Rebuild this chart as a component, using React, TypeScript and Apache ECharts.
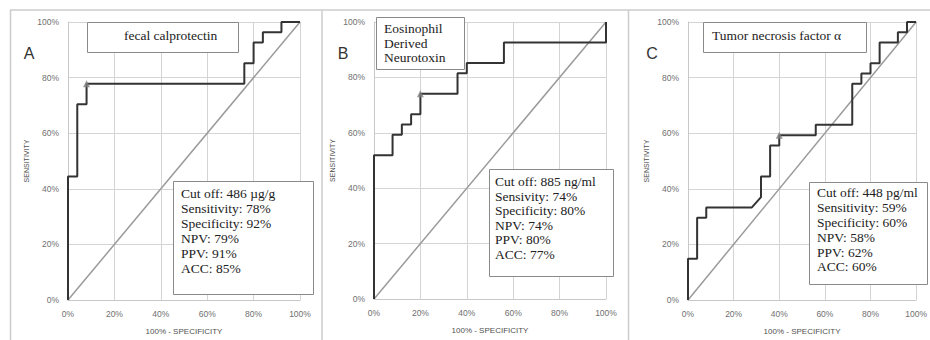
import React, { useEffect, useRef } from "react";
import * as echarts from "echarts";

// Panel A: fecal calprotectin ROC (x = 100% - specificity, y = sensitivity)
const rocAX = [0, 0, 4, 4, 8, 8, 76, 76, 80, 80, 84, 84, 92, 92, 100];
const rocAY = [0, 44.4, 44.4, 70.4, 70.4, 77.8, 77.8, 85.2, 85.2, 92.6, 92.6, 96.3, 96.3, 100, 100];
const cutA = [8, 77.8];

// Panel B: Eosinophil Derived Neurotoxin
const rocBX = [0, 0, 8, 8, 12, 12, 16, 16, 20, 20, 36, 36, 40, 40, 56, 56, 100, 100];
const rocBY = [0, 51.9, 51.9, 59.3, 59.3, 63, 63, 66.7, 66.7, 74.1, 74.1, 81.5, 81.5, 85.2, 85.2, 92.6, 92.6, 100];
const cutB = [20, 74.1];

// Panel C: Tumor necrosis factor alpha
const rocCX = [0, 0, 4, 4, 8, 8, 28, 32, 32, 36, 36, 40, 40, 56, 56, 72, 72, 76, 76, 80, 80, 84, 84, 92, 92, 96, 96, 100];
const rocCY = [0, 14.8, 14.8, 29.6, 29.6, 33.3, 33.3, 37, 44.4, 44.4, 55.6, 55.6, 59.3, 59.3, 63, 63, 77.8, 77.8, 81.5, 81.5, 85.2, 85.2, 92.6, 92.6, 96.3, 96.3, 100, 100];
const cutC = [40, 59.3];

const reference = [0, 100];

const panelLetters = ["A", "B", "C"];
const titleA = ["fecal calprotectin"];
const titleB = ["Eosinophil", "Derived", "Neurotoxin"];
const titleC = ["Tumor necrosis factor α"];
const statsA = ["Cut off: 486 µg/g", "Sensitivity: 78%", "Specificity: 92%", "NPV: 79%", "PPV: 91%", "ACC: 85%"];
const statsB = ["Cut off: 885 ng/ml", "Sensivity: 74%", "Specificity: 80%", "NPV: 74%", "PPV: 80%", "ACC: 77%"];
const statsC = ["Cut off: 448 pg/ml", "Sensitivity: 59%", "Specificity: 60%", "NPV: 58%", "PPV: 62%", "ACC: 60%"];
const xName = "100% - SPECIFICITY";
const yName = "SENSITIVITY";

const zip = (xs: number[], ys: number[]) => xs.map((x, i) => [x, ys[i]]);

const SERIF = "'Liberation Serif', 'Times New Roman', serif";
const SANS = "'Liberation Sans', Arial, sans-serif";

export default function App() {
  const ref = useRef<HTMLDivElement>(null);
  useEffect(() => {
    if (!ref.current) return;
    const chart = echarts.init(ref.current, null, { renderer: "svg" });
    const grids = [
      { left: 68, top: 22, width: 232, height: 278 },
      { left: 374, top: 22, width: 232, height: 277 },
      { left: 688, top: 22, width: 231, height: 278 },
    ];
    const axisCommon = {
      type: "value" as const,
      min: 0,
      max: 100,
      interval: 20,
      axisLine: { show: true, lineStyle: { color: "#c8c8c8", width: 1 } },
      axisTick: { show: false },
      splitLine: { show: true, lineStyle: { color: "#d4d4d4", width: 1 } },
      axisLabel: {
        formatter: "{value}%",
        color: "#707070",
        fontSize: 8.5,
        fontFamily: SANS,
        margin: 9,
      },
    };
    const xAxes = grids.map((_, i) => ({
      ...axisCommon,
      gridIndex: i,
      name: xName,
      nameLocation: "middle" as const,
      nameGap: 27,
      nameTextStyle: { color: "#505050", fontSize: 8, fontFamily: SANS },
    }));
    const yAxes = grids.map((_, i) => ({
      ...axisCommon,
      gridIndex: i,
      name: yName,
      nameLocation: "middle" as const,
      nameGap: 38,
      nameRotate: 90,
      nameTextStyle: { color: "#505050", fontSize: 7, fontFamily: SANS },
    }));
    const rocs = [zip(rocAX, rocAY), zip(rocBX, rocBY), zip(rocCX, rocCY)];
    const cuts = [cutA, cutB, cutC];
    const series: any[] = [];
    grids.forEach((_, i) => {
      series.push({
        type: "line",
        xAxisIndex: i,
        yAxisIndex: i,
        data: zip(reference, reference),
        showSymbol: false,
        lineStyle: { color: "#9a9a9a", width: 1.5 },
        z: 2,
      });
      series.push({
        type: "line",
        xAxisIndex: i,
        yAxisIndex: i,
        data: rocs[i],
        showSymbol: false,
        lineStyle: { color: "#333333", width: 2 },
        z: 3,
      });
      series.push({
        type: "scatter",
        xAxisIndex: i,
        yAxisIndex: i,
        data: [cuts[i]],
        symbol: "triangle",
        symbolSize: 7,
        itemStyle: { color: "#808080" },
        z: 4,
      });
    });

    const box = (x: number, y: number, w: number, h: number) => ({
      type: "rect",
      shape: { x, y, width: w, height: h },
      style: { fill: "#ffffff", stroke: "#8a8a8a", lineWidth: 1 },
      z: 100,
    });
    const txt = (x: number, y: number, lines: string[], lh: number) => ({
      type: "text",
      x,
      y,
      style: {
        text: lines.join("\n"),
        font: `13.5px ${SERIF}`,
        fill: "#222222",
        lineHeight: lh,
        verticalAlign: "top",
      },
      z: 101,
    });
    const frameLine = (x1: number, y1: number, x2: number, y2: number) => ({
      type: "line",
      shape: { x1, y1, x2, y2 },
      style: { stroke: "#cccccc", lineWidth: 1.5 },
      z: 1,
    });
    const letter = (x: number, s: string) => ({
      type: "text",
      x,
      y: 53,
      style: { text: s, font: `16px ${SANS}`, fill: "#333", align: "center", verticalAlign: "middle" },
      z: 101,
    });

    const graphic: any[] = [
      frameLine(10, 10, 930, 10),
      frameLine(10.5, 10, 10.5, 340),
      frameLine(322, 10, 322, 340),
      frameLine(628.5, 10, 628.5, 340),
      letter(29, panelLetters[0]),
      letter(343, panelLetters[1]),
      letter(652, panelLetters[2]),
      // titles
      box(87.5, 22.5, 151, 30),
      txt(124, 28, titleA, 15),
      box(376.5, 17.5, 88, 52),
      txt(384, 21.5, titleB, 14.5),
      box(703.5, 22.5, 163, 30),
      txt(712, 28, titleC, 15),
      // stats
      box(173.5, 181.5, 140, 113),
      txt(181, 185.5, statsA, 15),
      box(489.5, 169.5, 124, 107),
      txt(495, 174.5, statsB, 14.5),
      box(809.5, 182.5, 118, 102),
      txt(817, 185.5, statsC, 14.8),
    ];

    chart.setOption({
      animation: false,
      backgroundColor: "#ffffff",
      grid: grids,
      xAxis: xAxes,
      yAxis: yAxes,
      series,
      graphic,
    });
    return () => chart.dispose();
  }, []);
  return (
    <div
      ref={ref}
      style={{ position: "absolute", left: 0, top: 0, width: 930, height: 340, background: "#fff" }}
    />
  );
}
